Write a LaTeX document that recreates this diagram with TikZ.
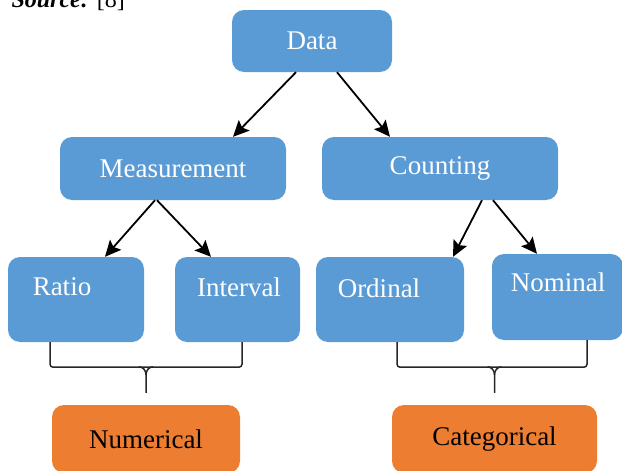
\documentclass[tikz,border=0pt]{standalone}
\usepackage{fontspec}
\setmainfont{Liberation Serif}
\usetikzlibrary{arrows.meta,calc}
\definecolor{boxblue}{HTML}{5B9BD5}
\definecolor{boxorange}{HTML}{ED7D31}

\begin{document}
\begin{tikzpicture}[x=1pt,y=-1pt,
        bluebox/.style={fill=boxblue,rounded corners=12pt,inner sep=0pt},
        orangebox/.style={fill=boxorange,rounded corners=12pt,inner sep=0pt,font=\fontsize{27}{31}\selectfont},
        lbl/.style={text=white,font=\fontsize{27}{31}\selectfont,inner sep=0pt},
        arr/.style={line width=1.8pt,-{Stealth[length=16pt,width=15pt,inset=3pt]}},
        brace/.style={line width=1.5pt,black!85,rounded corners=3pt}]
            \clip (0,0) rectangle (622,471);
            \useasboundingbox (0,0) rectangle (622,471);

            \node[anchor=base west,font=\fontsize{24}{28}\selectfont] (src) at (8,7) {\textbf{\textit{Source:}} [8]};

            \node[bluebox,lbl,minimum width=160pt,minimum height=62pt] (data) at (312,41) {Data};
            \node[bluebox,lbl,minimum width=226pt,minimum height=63pt] (meas) at (173,168.5) {Measurement};
            \node[bluebox,lbl,minimum width=236pt,minimum height=63pt] (count) at (440,168.5) {Counting};

            \node[bluebox,minimum width=136pt,minimum height=85pt] (ratio) at (76,299.5) {};
            \node[bluebox,minimum width=125pt,minimum height=85pt] (interval) at (237.5,299.5) {};
            \node[bluebox,minimum width=148pt,minimum height=85pt] (ordinal) at (390,299.5) {};
            \node[bluebox,minimum width=131pt,minimum height=86pt] (nominal) at (557.5,297) {};
            \node[lbl] (ratio-t) at (62,287) {Ratio};
            \node[lbl] (interval-t) at (239,287) {Interval};
            \node[lbl] (ordinal-t) at (379,288) {Ordinal};
            \node[lbl] (nominal-t) at (558,282) {Nominal};

            \node[orangebox,minimum width=188pt,minimum height=68pt] (num) at (146,439) {Numerical};
            \node[orangebox,minimum width=205pt,minimum height=68pt] (cat) at (494.5,439) {Categorical};

            \draw[arr] ([xshift=-16pt]data.south) -- ([xshift=60pt]meas.north);
            \draw[arr] ([xshift=25pt]data.south) -- ([xshift=-50pt]count.north);
            \draw[arr] ([xshift=-18pt]meas.south) -- ([xshift=29pt]ratio.north);
            \draw[arr] ([xshift=-16pt]meas.south) -- ([xshift=-26.5pt]interval.north);
            \draw[arr] ([xshift=42pt]count.south) -- ([xshift=63pt]ordinal.north);
            \draw[arr] ([xshift=53pt]count.south) -- ([xshift=-20.5pt]nominal.north);

            \draw[brace] ([xshift=-26pt]ratio.south) -- ++(0,25) -| ([xshift=4.5pt]interval.south);
            \draw[brace] ([xshift=7pt]ordinal.south) -- ++(0,25) -| ([xshift=29.5pt]nominal.south);

            \draw[line width=1.5pt,black!85] ([yshift=12pt]num.north) -- ++(0,-18) to[out=90,in=0] ++(-7,-8);
            \draw[line width=1.5pt,black!85] ([yshift=30pt]num.north) to[out=90,in=180] ++(7,-8);
            \draw[line width=1.5pt,black!85] ([yshift=12pt]cat.north) -- ++(0,-18) to[out=90,in=0] ++(-7,-8);
            \draw[line width=1.5pt,black!85] ([yshift=30pt]cat.north) to[out=90,in=180] ++(7,-8);
        \end{tikzpicture}
\end{document}
